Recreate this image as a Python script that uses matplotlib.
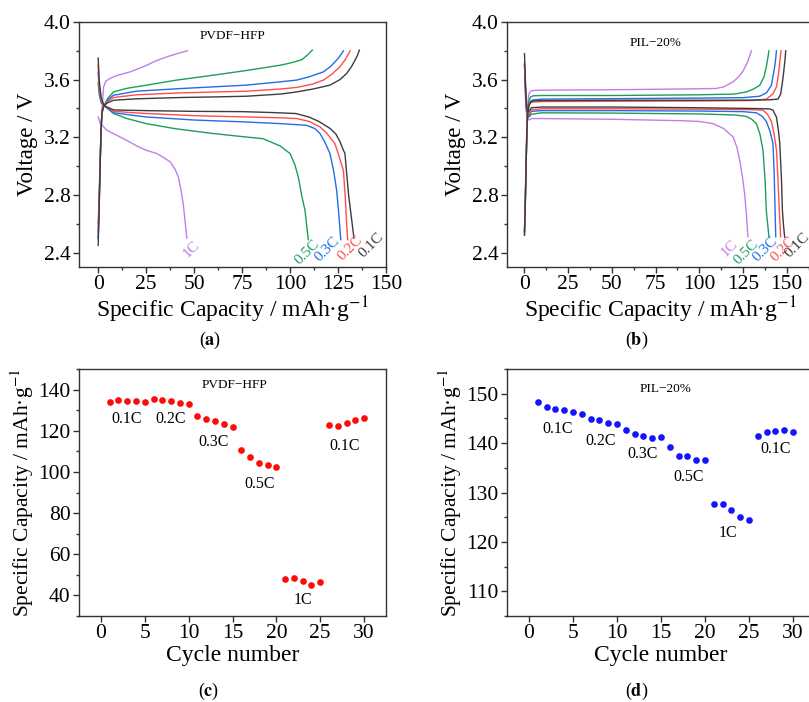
import matplotlib
matplotlib.use("Agg")
import matplotlib.pyplot as plt
from matplotlib.ticker import MultipleLocator

plt.rcParams['font.family'] = ['Liberation Serif', 'DejaVu Serif']
plt.rcParams['mathtext.fontset'] = 'stix'

# ---------------- Data ----------------
rates = ['0.1C', '0.2C', '0.3C', '0.5C', '1C']
colors = {'0.1C': '#3c3c3c', '0.2C': '#ff4d4d', '0.3C': '#1f6fe5',
          '0.5C': '#1b9e5a', '1C': '#c17ee8'}

# Panel (a) PVDF-HFP charge/discharge
a_dis_x = {
    '0.1C': [0, 0.5, 1.5, 3, 8, 25, 50, 75, 90, 103, 110, 115, 118, 121, 124, 126, 127.5, 128.6, 129.5, 130.5, 132, 133.3],
    '0.2C': [0, 0.5, 1.5, 3, 8, 25, 50, 77, 95, 103.5, 110, 115.6, 119, 123.4, 125.5, 127.8, 128.7, 129.5, 130],
    '0.3C': [0, 0.5, 1.5, 3, 8, 25, 50, 77.4, 95, 108.7, 113, 115.6, 118, 120.8, 122.8, 124.3, 125.5, 126.4],
    '0.5C': [0, 0.5, 1.5, 3, 8, 15, 25, 40, 60, 75, 86, 94.8, 100, 102.5, 104.3, 106, 107.8, 109.5],
    '1C':   [0, 1, 3, 4.5, 8, 11.5, 16, 20.1, 25, 30.6, 34, 37.5, 40, 41.8, 43.2, 44.4, 45.4, 46.2],
}
a_dis_v = {
    '0.1C': [3.75, 3.60, 3.48, 3.42, 3.39, 3.385, 3.38, 3.378, 3.372, 3.365, 3.34, 3.31, 3.285, 3.26, 3.22, 3.17, 3.12, 3.087, 2.95, 2.80, 2.64, 2.50],
    '0.2C': [3.70, 3.56, 3.46, 3.42, 3.38, 3.365, 3.35, 3.341, 3.335, 3.33, 3.31, 3.272, 3.23, 3.156, 3.07, 2.97, 2.80, 2.60, 2.49],
    '0.3C': [3.65, 3.53, 3.45, 3.42, 3.37, 3.341, 3.32, 3.306, 3.295, 3.283, 3.26, 3.226, 3.17, 3.087, 2.96, 2.83, 2.65, 2.49],
    '0.5C': [3.58, 3.50, 3.44, 3.42, 3.365, 3.33, 3.295, 3.26, 3.226, 3.205, 3.19, 3.14, 3.087, 3.01, 2.924, 2.80, 2.692, 2.49],
    '1C':   [3.34, 3.30, 3.27, 3.249, 3.225, 3.202, 3.17, 3.14, 3.11, 3.087, 3.06, 3.03, 2.98, 2.924, 2.83, 2.73, 2.60, 2.50],
}
a_chg_x = {
    '0.1C': [0, 0.5, 1, 1.5, 2, 3, 5, 8, 20, 42.7, 60, 77.4, 95, 103.5, 112, 120.8, 126, 129.5, 132, 133.9, 135.2, 136.1],
    '0.2C': [0, 0.5, 1, 1.5, 2, 3, 5, 8, 20, 42.7, 60, 77.4, 95, 103.5, 112, 117.4, 122, 126, 128.8, 131.3],
    '0.3C': [0, 0.5, 1, 1.5, 2, 3, 5, 8, 20, 42.7, 60, 77.4, 95, 103.5, 110, 117.4, 121, 124.3, 126.3, 127.8],
    '0.5C': [0, 0.5, 1, 1.5, 2, 3, 5, 8, 15, 25.3, 40, 60, 78, 94.8, 100, 106.1, 109, 111.6],
    '1C':   [0, 0.5, 1, 1.5, 2, 2.8, 4, 6.3, 10, 16.7, 25.3, 30, 35.8, 41, 46.5],
}
a_chg_v = {
    '0.1C': [2.45, 2.70, 3.00, 3.25, 3.38, 3.42, 3.44, 3.457, 3.467, 3.476, 3.48, 3.485, 3.50, 3.515, 3.535, 3.562, 3.60, 3.643, 3.69, 3.736, 3.77, 3.805],
    '0.2C': [2.55, 2.75, 3.02, 3.25, 3.37, 3.42, 3.45, 3.476, 3.495, 3.508, 3.514, 3.52, 3.535, 3.546, 3.57, 3.597, 3.64, 3.689, 3.74, 3.80],
    '0.3C': [2.50, 2.72, 3.00, 3.25, 3.37, 3.42, 3.46, 3.492, 3.52, 3.538, 3.55, 3.562, 3.585, 3.597, 3.62, 3.654, 3.69, 3.736, 3.77, 3.80],
    '0.5C': [2.60, 2.78, 3.02, 3.25, 3.37, 3.42, 3.47, 3.515, 3.54, 3.562, 3.595, 3.631, 3.665, 3.70, 3.715, 3.738, 3.77, 3.805],
    '1C':   [2.50, 2.75, 3.00, 3.25, 3.40, 3.55, 3.59, 3.61, 3.63, 3.654, 3.70, 3.73, 3.758, 3.78, 3.80],
}
a_label_x = {'0.1C': 142.5, '0.2C': 131.3, '0.3C': 119.1, '0.5C': 108.7, '1C': 48.8}
a_label_v = {'0.1C': 2.45, '0.2C': 2.43, '0.3C': 2.42, '0.5C': 2.40, '1C': 2.425}

# Panel (b) PIL-20% charge/discharge
b_dis_x = {
    '0.1C': [0, 0.5, 1, 1.5, 2.5, 4, 10, 50, 100, 130, 140.2, 142.1, 144.1, 145.2, 146, 147, 147.5, 148.2, 148.8],
    '0.2C': [0, 0.5, 1, 1.5, 2.5, 4, 10, 50, 100, 130, 136.4, 139, 141.2, 142.8, 144.1, 145, 145.7, 146.5],
    '0.3C': [0, 0.5, 1, 1.5, 2.5, 4, 10, 50, 100, 125, 132.6, 136, 138.3, 140.5, 142.1, 142.8, 143.3, 143.7],
    '0.5C': [0, 0.5, 1, 1.5, 2.5, 4, 10, 50, 100, 120, 126.9, 130, 132.6, 134.7, 136.4, 137.6, 138.3, 139.8],
    '1C':   [0, 0.5, 1, 1.5, 2.5, 4, 10, 50, 90, 100, 107.8, 114, 119.3, 121.5, 123.1, 124.6, 125.9, 127, 127.8],
}
b_dis_v = {
    '0.1C': [3.78, 3.60, 3.45, 3.38, 3.38, 3.405, 3.41, 3.41, 3.405, 3.40, 3.397, 3.388, 3.34, 3.25, 3.156, 2.90, 2.692, 2.58, 2.506],
    '0.2C': [3.72, 3.57, 3.43, 3.36, 3.36, 3.39, 3.398, 3.398, 3.395, 3.392, 3.388, 3.36, 3.31, 3.22, 3.11, 2.90, 2.70, 2.51],
    '0.3C': [3.70, 3.55, 3.42, 3.35, 3.35, 3.38, 3.385, 3.385, 3.382, 3.378, 3.37, 3.345, 3.31, 3.24, 3.156, 2.95, 2.70, 2.51],
    '0.5C': [3.70, 3.55, 3.42, 3.35, 3.34, 3.36, 3.37, 3.368, 3.362, 3.355, 3.345, 3.325, 3.295, 3.22, 3.11, 2.90, 2.69, 2.51],
    '1C':   [3.62, 3.48, 3.38, 3.33, 3.32, 3.33, 3.33, 3.325, 3.315, 3.31, 3.295, 3.26, 3.202, 3.13, 3.04, 2.93, 2.808, 2.65, 2.51],
}
b_chg_x = {
    '0.1C': [0, 0.5, 1, 1.5, 2, 2.5, 3.5, 5, 10, 50, 100, 130, 140, 145, 146.5, 147.5, 148.3, 149, 149.4],
    '0.2C': [0, 0.5, 1, 1.5, 2, 2.5, 3.5, 5, 10, 50, 100, 130, 138.3, 142, 144.1, 145.3, 146, 146.7],
    '0.3C': [0, 0.5, 1, 1.5, 2, 2.5, 3.5, 5, 10, 50, 100, 125, 134.5, 138.5, 141.2, 143.1, 143.7, 144.1],
    '0.5C': [0, 0.5, 1, 1.5, 2, 2.5, 3.5, 5, 10, 50, 100, 120, 126.9, 131, 134.5, 137, 138.3, 139.3, 139.8],
    '1C':   [0, 0.5, 1, 1.5, 2, 2.5, 3.5, 5, 10, 50, 90, 100, 105, 109.7, 114, 119.3, 122.5, 125, 127.5, 129.8],
}
b_chg_v = {
    '0.1C': [2.52, 2.75, 3.05, 3.30, 3.38, 3.42, 3.445, 3.452, 3.455, 3.457, 3.457, 3.458, 3.46, 3.465, 3.50, 3.58, 3.66, 3.74, 3.80],
    '0.2C': [2.55, 2.78, 3.05, 3.30, 3.38, 3.42, 3.44, 3.445, 3.448, 3.45, 3.452, 3.455, 3.465, 3.50, 3.55, 3.64, 3.72, 3.80],
    '0.3C': [2.53, 2.76, 3.05, 3.30, 3.38, 3.42, 3.45, 3.46, 3.465, 3.468, 3.472, 3.475, 3.485, 3.51, 3.56, 3.69, 3.75, 3.80],
    '0.5C': [2.55, 2.78, 3.05, 3.30, 3.40, 3.45, 3.48, 3.488, 3.49, 3.49, 3.495, 3.50, 3.515, 3.535, 3.56, 3.62, 3.69, 3.76, 3.80],
    '1C':   [2.55, 2.80, 3.10, 3.35, 3.45, 3.50, 3.52, 3.525, 3.527, 3.53, 3.535, 3.537, 3.538, 3.539, 3.55, 3.585, 3.62, 3.66, 3.72, 3.80],
}
b_label_x = {'0.1C': 156.0, '0.2C': 147.9, '0.3C': 137.4, '0.5C': 126.9, '1C': 117.3}
b_label_v = {'0.1C': 2.45, '0.2C': 2.42, '0.3C': 2.42, '0.5C': 2.40, '1C': 2.43}

# Panel (c)/(d) rate performance
cycles = list(range(1, 31))
cap_pvdf = [133.8, 135.1, 134.5, 134.6, 134.0, 135.3, 135.1, 134.3, 133.3, 132.8,
            127.3, 125.9, 124.9, 123.2, 121.6, 110.6, 107.3, 104.2, 103.6, 102.6,
            47.8, 48.6, 47.0, 44.9, 46.7, 122.8, 122.4, 124.0, 125.2, 126.0]
cap_pil = [148.4, 147.3, 146.9, 146.6, 146.3, 145.9, 144.9, 144.7, 144.1, 143.9,
           142.7, 141.9, 141.4, 141.1, 141.3, 139.3, 137.4, 137.3, 136.5, 136.6,
           127.6, 127.6, 126.5, 125.0, 124.4, 141.5, 142.3, 142.5, 142.6, 142.2]
c_labels = ['0.1C', '0.2C', '0.3C', '0.5C', '1C', '0.1C']
c_label_x = [2.9, 7.9, 12.8, 18.1, 23.0, 27.8]
c_label_y = [125.7, 125.7, 114.3, 94.1, 37.6, 112.7]
d_label_x = [3.2, 8.1, 12.9, 18.1, 22.6, 28.0]
d_label_y = [142.8, 140.4, 137.7, 133.2, 121.9, 138.8]

# ---------------- Figure ----------------
W, H = 809, 702
fig = plt.figure(figsize=(W / 100, H / 100), dpi=100)

def box(l, t, r, b):
    return [l / W, 1 - b / H, (r - l) / W, (b - t) / H]

ax_a = fig.add_axes(box(79, 22, 386, 267))
ax_b = fig.add_axes(box(507, 22, 813, 267))
ax_c = fig.add_axes(box(79, 369, 386, 616))
ax_d = fig.add_axes(box(507, 369, 815, 616))

TICK = 15.5
LAB = 16.5
spine_c = '#333333'

def style(ax):
    for s in ax.spines.values():
        s.set_color(spine_c)
        s.set_linewidth(1.0)
    ax.tick_params(which='both', direction='out', top=False, right=False,
                   labelsize=TICK, color=spine_c, width=1.0, pad=2)
    ax.tick_params(which='major', length=4)
    ax.tick_params(which='minor', length=2.5)

xlab = 'Specific Capacity / mAh·g$^{-1}$'

for ax, dx, dv, cx, cv, lx, lv, title, tpos in [
        (ax_a, a_dis_x, a_dis_v, a_chg_x, a_chg_v, a_label_x, a_label_v, 'PVDF−HFP', (69.8, 3.90)),
        (ax_b, b_dis_x, b_dis_v, b_chg_x, b_chg_v, b_label_x, b_label_v, 'PIL−20%', (75, 3.855))]:
    for r in ['1C', '0.5C', '0.3C', '0.2C', '0.1C']:
        ax.plot(cx[r], cv[r], color=colors[r], lw=1.0)
        ax.plot(dx[r], dv[r], color=colors[r], lw=1.0)
        ax.text(lx[r], lv[r], r, color=colors[r], fontsize=11, rotation=45,
                ha='center', va='center')
    ax.text(tpos[0], tpos[1], title, fontsize=9.5, ha='center', va='center')
    ax.set_ylim(2.3, 4.0)
    ax.yaxis.set_major_locator(MultipleLocator(0.4))
    ax.yaxis.set_minor_locator(MultipleLocator(0.2))
    ax.xaxis.set_major_locator(MultipleLocator(25))
    ax.xaxis.set_minor_locator(MultipleLocator(12.5))
    ax.set_yticks([2.4, 2.8, 3.2, 3.6, 4.0])
    ax.set_yticklabels(['2.4', '2.8', '3.2', '3.6', '4.0'])
    ax.set_ylabel('Voltage / V', fontsize=LAB, labelpad=4)
    ax.set_xlabel(xlab, fontsize=17, labelpad=0)
    style(ax)

ax_a.set_xlim(-10, 150)
ax_b.set_xlim(-10, 165)
ax_b.set_xticks([0, 25, 50, 75, 100, 125, 150])

ax_c.plot(cycles, cap_pvdf, 'o', color='#ff0a0a', ms=4.8, mec='none')
ax_d.plot(cycles, cap_pil, 'o', color='#1414ff', ms=4.8, mec='none')
for ax, lx, ly, title, tpos in [
        (ax_c, c_label_x, c_label_y, 'PVDF−HFP', (15.2, 142)),
        (ax_d, d_label_x, d_label_y, 'PIL−20%', (15.5, 151))]:
    for t, x, y in zip(c_labels, lx, ly):
        ax.text(x, y, t, fontsize=11.5, ha='center', va='center')
    ax.text(tpos[0], tpos[1], title, fontsize=9.5, ha='center', va='center')
    ax.set_xlim(-2.5, 32.5)
    ax.xaxis.set_major_locator(MultipleLocator(5))
    ax.set_xlabel('Cycle number', fontsize=17, labelpad=1)
    ax.set_ylabel('Specific Capacity / mAh·g$^{-1}$', fontsize=15.5, labelpad=2)
    style(ax)

ax_c.set_ylim(30, 150)
ax_c.yaxis.set_major_locator(MultipleLocator(20))
ax_c.yaxis.set_minor_locator(MultipleLocator(10))
ax_c.set_yticks([40, 60, 80, 100, 120, 140])
ax_d.set_ylim(105, 155)
ax_d.yaxis.set_major_locator(MultipleLocator(10))
ax_d.yaxis.set_minor_locator(MultipleLocator(5))
ax_d.set_yticks([110, 120, 130, 140, 150])

for lbl, x, y in [('a', 210, 340), ('b', 637, 340), ('c', 209, 691), ('d', 637, 691)]:
    fig.text(x / W, 1 - y / H, '($\\mathbf{' + lbl + '}$)', fontsize=13,
             ha='center', va='center')

fig.savefig('out.png', dpi=100)
